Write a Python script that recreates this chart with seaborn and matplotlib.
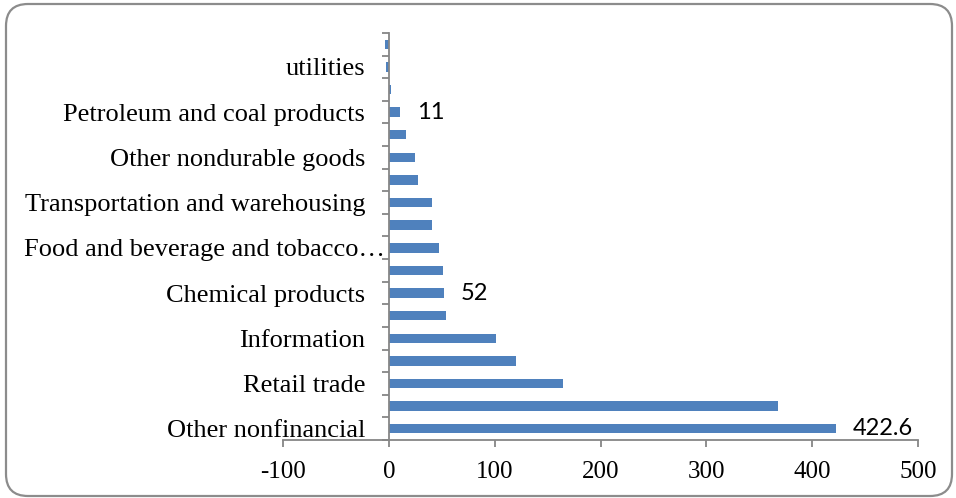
import numpy as np
import pandas as pd
import matplotlib
matplotlib.use("Agg")
import matplotlib.pyplot as plt
import seaborn as sns
from matplotlib.patches import FancyBboxPatch
from matplotlib.transforms import IdentityTransform, ScaledTranslation

# Data (top to bottom as drawn)
category_labels = ["", "utilities", "", "Petroleum and coal products", "",
                   "Other nondurable goods", "", "Transportation and warehousing", "",
                   "Food and beverage and tobacco\u2026", "", "Chemical products", "",
                   "Information", "", "Retail trade", "", "Other nonfinancial"]
values = [-3.5, -2.5, 2.2, 11, 16.4, 25, 27.1, 40.7, 41, 47, 51.4, 52, 53.6,
          101.4, 120.4, 164.3, 367.5, 422.6]
data_labels = ["", "", "", "11", "", "", "", "", "", "", "", "52", "", "", "", "", "", "422.6"]
x_ticks = [-100, 0, 100, 200, 300, 400, 500]

sns.set_theme(style="white")
plt.rcParams['font.family'] = ['Liberation Serif', 'DejaVu Serif']
plt.rcParams['xtick.labelsize'] = 18
plt.rcParams['ytick.labelsize'] = 19

ids = [f"c{i}" for i in range(len(values))]
df = pd.DataFrame({"id": ids, "value": values})

fig = plt.figure(figsize=(9.56, 4.98), dpi=100)
ax = fig.add_axes([283/956, 58/498, 635/956, 407/498])

sns.barplot(data=df, x="value", y="id", orient="y", color="#4F81BD",
            saturation=1, width=0.42, linewidth=0, ax=ax, order=ids)

gray = "#868686"
for s in ["top", "right"]:
    ax.spines[s].set_visible(False)
ax.spines["left"].set_position(("data", 0))
ax.spines["left"].set_color(gray)
ax.spines["bottom"].set_color(gray)
ax.spines["left"].set_linewidth(1.3)
ax.spines["bottom"].set_linewidth(1.3)

ax.set_xlim(-100, 500)
ax.set_ylim(17.5, -0.5)
ax.set_xticks(x_ticks)
ax.set_yticks(range(len(ids)))
ax.set_yticks(np.arange(-0.5, len(ids), 1), minor=True)
ax.set_xlabel("")
ax.set_ylabel("")

ax.tick_params(axis="y", which="major", length=0, pad=17, labelsize=19, labelcolor="black")
ax.tick_params(axis="y", which="minor", left=True, length=5, width=1.3, color=gray)
ax.tick_params(axis="x", which="major", bottom=True, length=5, width=1.3, color=gray,
               pad=10, labelsize=18, labelcolor="black")
ax.set_xticklabels([str(t) for t in x_ticks], fontsize=18, color="black")
ax.set_yticklabels(category_labels, fontsize=19, color="black")

# the truncated label runs up to the axis in the original
food_idx = category_labels.index("Food and beverage and tobacco\u2026")
lbl = ax.yaxis.get_major_ticks()[food_idx].label1
lbl.set_transform(lbl.get_transform() + ScaledTranslation(0.2, 0, fig.dpi_scale_trans))

ax.bar_label(ax.containers[0], labels=data_labels, padding=12, fontsize=17,
             family=["Lato", "DejaVu Sans"], color="black")

border = FancyBboxPatch((6, 2), 946, 492, boxstyle="round,pad=0,rounding_size=22",
                        transform=IdentityTransform(), facecolor="none",
                        edgecolor="#8c8c8c", linewidth=1.6)
fig.patches.append(border)

fig.savefig("out.png", dpi=100)
